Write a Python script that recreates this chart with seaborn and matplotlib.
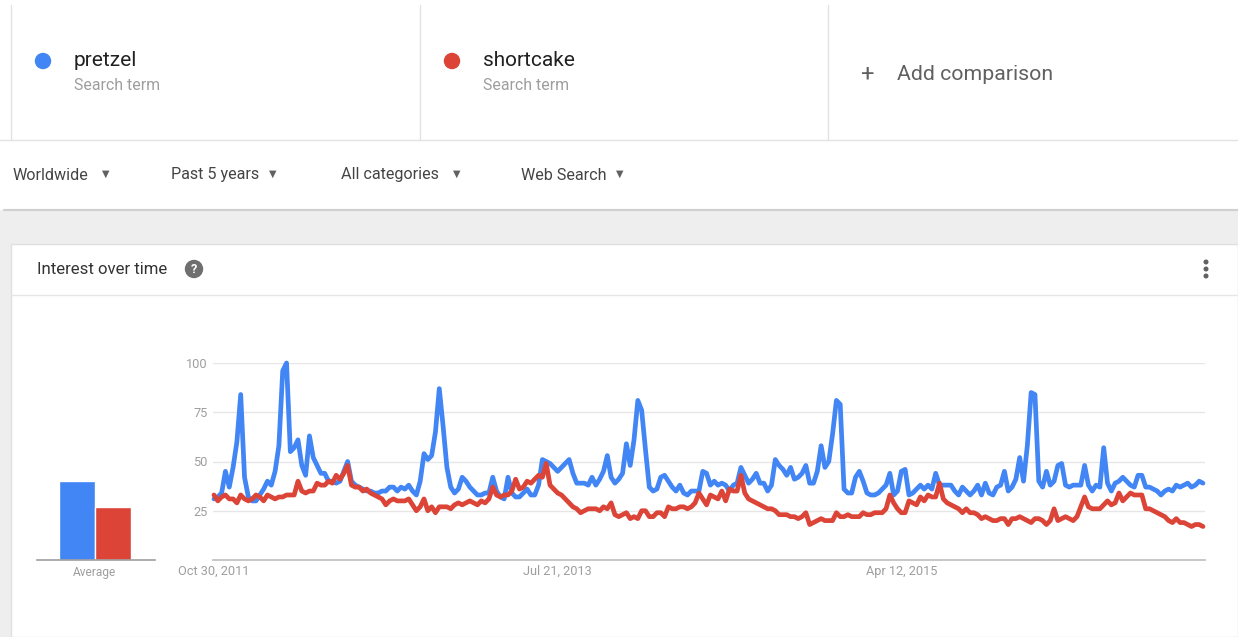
import pandas as pd
import numpy as np
import matplotlib
matplotlib.use('Agg')
import matplotlib.pyplot as plt
import matplotlib.dates as mdates
from matplotlib.patches import Rectangle, Circle
import seaborn as sns

# weekly search interest (Oct 30 2011 .. Oct 2016)
pretzel = [
    31, 32, 34, 45, 37, 47, 60, 84, 42, 32, 30, 30, 33, 36, 40, 38, 45, 58, 96, 100,
    55, 57, 61, 48, 43, 63, 52, 48, 44, 44, 40, 40, 39, 40, 45, 50, 40, 38, 37, 36,
    35, 35, 34, 34, 35, 35, 37, 37, 35, 37, 36, 38, 35, 33, 40, 54, 51, 53, 65, 87,
    68, 47, 37, 34, 36, 42, 40, 37, 35, 33, 33, 34, 34, 42, 35, 32, 31, 42, 34, 32,
    32, 34, 36, 33, 33, 38, 51, 50, 49, 47, 45, 47, 49, 51, 44, 39, 39, 39, 38, 42,
    38, 41, 45, 53, 42, 39, 41, 44, 59, 48, 61, 81, 76, 56, 37, 35, 36, 42, 43, 40,
    37, 35, 38, 34, 33, 35, 35, 35, 45, 44, 38, 40, 38, 39, 38, 35, 38, 39, 47, 43,
    39, 41, 44, 39, 39, 35, 38, 51, 48, 46, 43, 47, 41, 42, 44, 48, 39, 39, 45, 58,
    47, 50, 64, 81, 79, 36, 34, 34, 42, 45, 40, 34, 33, 33, 34, 36, 38, 44, 33, 35,
    45, 46, 33, 34, 36, 38, 36, 38, 36, 44, 38, 38, 38, 38, 35, 33, 37, 35, 33, 35,
    38, 33, 39, 34, 33, 37, 38, 45, 35, 37, 41, 52, 40, 58, 85, 84, 40, 37, 45, 38,
    40, 48, 49, 38, 37, 38, 38, 38, 48, 38, 35, 38, 37, 57, 39, 35, 39, 40, 42, 40,
    38, 37, 43, 43, 37, 37, 36, 35, 33, 35, 36, 35, 38, 37, 38, 39, 37, 38, 40, 39,
]
shortcake = [
    33, 30, 32, 33, 31, 31, 29, 33, 31, 30, 31, 33, 32, 30, 33, 32, 31, 32, 32, 33,
    33, 33, 40, 35, 34, 35, 35, 39, 38, 38, 40, 39, 43, 41, 44, 48, 38, 37, 37, 35,
    36, 34, 33, 32, 31, 28, 30, 31, 30, 30, 30, 31, 28, 25, 27, 31, 25, 27, 24, 27,
    27, 27, 26, 28, 29, 28, 29, 30, 29, 28, 30, 29, 31, 37, 33, 32, 33, 33, 35, 41,
    36, 37, 40, 39, 41, 43, 42, 49, 38, 36, 34, 33, 31, 29, 27, 26, 24, 25, 26, 26,
    26, 25, 27, 26, 29, 23, 22, 23, 24, 21, 22, 21, 25, 25, 22, 22, 24, 24, 22, 27,
    26, 26, 27, 27, 26, 27, 29, 34, 31, 28, 33, 32, 31, 35, 30, 36, 35, 35, 43, 34,
    31, 30, 29, 28, 27, 26, 26, 25, 23, 23, 23, 22, 22, 21, 22, 24, 18, 19, 20, 21,
    20, 20, 20, 24, 22, 22, 23, 22, 22, 22, 24, 23, 23, 24, 24, 24, 26, 33, 29, 26,
    24, 24, 30, 29, 28, 32, 30, 33, 32, 32, 39, 31, 29, 28, 27, 26, 24, 26, 24, 24,
    23, 21, 22, 21, 20, 20, 21, 21, 18, 21, 21, 22, 21, 20, 19, 21, 21, 20, 18, 20,
    26, 20, 21, 22, 21, 20, 22, 27, 32, 27, 26, 26, 26, 28, 30, 28, 29, 34, 30, 32,
    34, 33, 33, 33, 26, 26, 25, 24, 23, 22, 20, 19, 21, 19, 19, 18, 17, 18, 18, 17,
]
terms = ['pretzel', 'shortcake']
averages = [40, 27]
tick_idx = [0, 90, 180]
tick_labels = ['Oct 30, 2011', 'Jul 21, 2013', 'Apr 12, 2015']
y_ticks = [25, 50, 75, 100]
filters = ['Worldwide', 'Past 5 years', 'All categories', 'Web Search']

colors = {'pretzel': '#4285F4', 'shortcake': '#DB4437'}

dates = pd.date_range('2011-10-30', periods=len(pretzel), freq='W-SUN')
df = pd.concat([
    pd.DataFrame({'date': dates, 'value': pretzel, 'term': 'pretzel'}),
    pd.DataFrame({'date': dates, 'value': shortcake, 'term': 'shortcake'}),
])
avg_df = pd.DataFrame({'term': terms, 'value': averages})

sns.set_theme(style='white')
plt.rcParams['font.family'] = ['Roboto', 'DejaVu Sans']

W, H = 1238, 637
fig = plt.figure(figsize=(W / 100, H / 100), dpi=100)
fig.patch.set_facecolor('white')

# page chrome drawn in pixel coordinates
bg = fig.add_axes([0, 0, 1, 1])
bg.set_xlim(0, W)
bg.set_ylim(H, 0)
bg.axis('off')

line_c = '#e3e3e3'
for x in [11, 420, 828]:
    bg.plot([x, x], [5, 140], color=line_c, lw=1)
bg.plot([0, W], [140, 140], color=line_c, lw=1)

for cx, term in [(43, 'pretzel'), (452, 'shortcake')]:
    bg.add_patch(Circle((cx, 61), 7.5, color=colors[term]))
    bg.text(cx + 31, 60, term, fontsize=15, color='#212121', va='center')
    bg.text(cx + 31, 86, 'Search term', fontsize=11.4, color='#9e9e9e', va='center')
bg.text(867, 74, '+', fontsize=17, color='#616161', va='center', ha='center')
bg.text(897, 75, 'Add comparison', fontsize=15.3, color='#616161', va='center')

for x, x2, label in [(13, 106, filters[0]), (171, 273, filters[1]),
                     (341, 457, filters[2]), (521, 620, filters[3])]:
    bg.text(x, 175, label, fontsize=11.6, color='#444444', va='center')
    bg.text(x2, 174, '▼', fontsize=7, color='#616161', va='center', ha='center',
            family='DejaVu Sans')

bg.add_patch(Rectangle((0, 210), W, H - 210, color='#eeeeee', lw=0))
bg.plot([4, W], [210, 210], color='#cfcfcf', lw=1.5)
bg.add_patch(Rectangle((11, 244), W - 11, H - 244, facecolor='white',
                       edgecolor='#e0e0e0', lw=1))
bg.plot([11, W], [295, 295], color='#e6e6e6', lw=1)
bg.text(37, 269, 'Interest over time', fontsize=12.1, color='#333333', va='center')
bg.add_patch(Circle((194, 269), 8.5, color='#6f6f6f'))
bg.text(194, 269.5, '?', fontsize=9, color='white', ha='center', va='center',
        fontweight='bold')
for y in [262, 269, 276]:
    bg.add_patch(Circle((1206, y), 1.8, color='#616161'))

# line chart
ax = fig.add_axes([213 / W, (H - 560) / H, 992 / W, 197 / H])
sns.lineplot(data=df, x='date', y='value', hue='term', palette=colors,
             linewidth=3.4, legend=False, ax=ax, clip_on=False)
ax.set_ylim(0, 100)
x0 = mdates.date2num(dates[0]) - 1.8
x1 = mdates.date2num(dates[-1]) + 3.7
ax.set_xlim(x0, x1)
ax.set_xticks(dates[tick_idx])
ax.set_xticklabels(tick_labels)
ax.set_yticks(y_ticks)
ax.set_yticklabels([str(v) for v in y_ticks])
ax.yaxis.grid(True, color='#e6e6e6', lw=1)
ax.set_axisbelow(True)
ax.set_xlabel('')
ax.set_ylabel('')
for s in ['top', 'right', 'left']:
    ax.spines[s].set_visible(False)
ax.spines['bottom'].set_color('#bdbdbd')
ax.spines['bottom'].set_linewidth(1.2)
ax.tick_params(axis='both', length=0, labelsize=9.2, colors='#9e9e9e')
ax.tick_params(axis='x', pad=3.5)
ax.tick_params(axis='y', pad=4)
ax.patch.set_alpha(0)

# average bars
bx = fig.add_axes([37 / W, (H - 560) / H, 118 / W, 197 / H])
sns.barplot(data=avg_df, x='term', y='value', hue='term', palette=colors,
            width=1.0, saturation=1, legend=False, ax=bx)
bx.set_xlim(-1.111, 2.167)
bx.set_ylim(0, 100)
bx.set_xticks([0.5])
bx.set_xticklabels(['Average'])
bx.set_yticks([])
bx.set_xlabel('')
bx.set_ylabel('')
for s in ['top', 'right', 'left']:
    bx.spines[s].set_visible(False)
bx.spines['bottom'].set_color('#9e9e9e')
bx.spines['bottom'].set_linewidth(1.2)
bx.tick_params(axis='x', length=0, labelsize=8.6, colors='#9e9e9e', pad=4)
bx.patch.set_alpha(0)

fig.savefig('out.png', dpi=100)
